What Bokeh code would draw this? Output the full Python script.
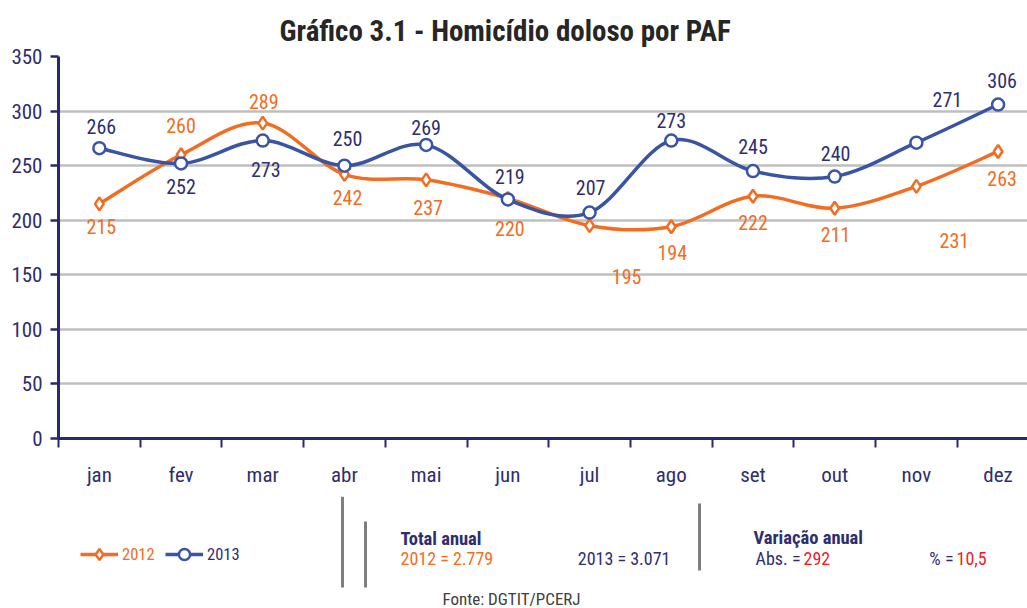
from bokeh.plotting import figure
from bokeh.layouts import column
from bokeh.models import ColumnDataSource, FixedTicker, Legend, LegendItem, Range1d
from bokeh.embed import file_html
from bokeh.resources import INLINE
from bokeh.core.properties import value

# ---------------- data ----------------
months = ["jan", "fev", "mar", "abr", "mai", "jun", "jul", "ago", "set", "out", "nov", "dez"]
vals_2012 = [215, 260, 289, 242, 237, 220, 195, 194, 222, 211, 231, 263]
vals_2013 = [266, 252, 273, 250, 269, 219, 207, 273, 245, 240, 271, 306]
y_ticks = [0, 50, 100, 150, 200, 250, 300, 350]
series_names = ["2012", "2013"]
title_text = "Gráfico 3.1 - Homicídio doloso por PAF"
total_2012 = "2.779"
total_2013 = "3.071"
var_abs = "292"
var_pct = "10,5"
source_text = "Fonte: DGTIT/PCERJ"

# label offsets in pixels (style, not data)
off12_x = [2, 0, 1, 3, 2, 2, 37, 1, 0, 1, 38, 4]
off12_y = [23, -29, -22, 23, 28, 30, 51, 26, 26, 26, 54, 27]
off13_x = [2, 0, 3, 3, 0, 2, 1, 0, 0, 1, 31, 4]
off13_y = [-22, 23, 29, -27, -17, -23, -25, -20, -25, -23, -43, -24]

FONT = "'Roboto Condensed', Roboto"
ORANGE = "#f26d21"
BLUE = "#3a54a4"
NAVY = "#2e2e6e"
AXIS = "#29296e"
RED = "#ee1c25"
GREY = "#7f7f7f"

xs = list(range(len(months)))


def bezier_cols(ys):
    n = len(ys)
    d = dict(x0=[], y0=[], x1=[], y1=[], cx0=[], cy0=[], cx1=[], cy1=[])
    for i in range(n - 1):
        pm = max(i - 1, 0)
        pp = min(i + 2, n - 1)
        d["x0"].append(xs[i]); d["y0"].append(ys[i])
        d["x1"].append(xs[i + 1]); d["y1"].append(ys[i + 1])
        d["cx0"].append(xs[i] + (xs[i + 1] - xs[pm]) / 6.0)
        d["cy0"].append(ys[i] + (ys[i + 1] - ys[pm]) / 6.0)
        d["cx1"].append(xs[i + 1] - (xs[pp] - xs[i]) / 6.0)
        d["cy1"].append(ys[i + 1] - (ys[pp] - ys[i]) / 6.0)
    return ColumnDataSource(d)


# ---------------- main chart ----------------
PH = 496
p = figure(width=1027, height=PH, output_backend="svg", toolbar_location=None,
           x_range=Range1d(-0.5, 11.36), y_range=Range1d(0, 350),
           min_border_left=58, min_border_right=0, min_border_top=56,
           min_border_bottom=PH - 56 - 382)
p.outline_line_color = None

p.title.text = title_text
p.title.text_font = FONT
p.title.text_font_size = "29px"
p.title.text_font_style = "bold"
p.title.text_color = "#262626"
p.title.align = "left"
p.title.offset = 221
p.title.standoff = 18

p.xgrid.grid_line_color = None
p.ygrid.grid_line_color = "#bfbfbf"
p.ygrid.grid_line_width = 2.5

p.yaxis.ticker = FixedTicker(ticks=y_ticks, minor_ticks=[])
p.yaxis.axis_line_color = AXIS
p.yaxis.axis_line_width = 3
p.yaxis.major_tick_line_color = AXIS
p.yaxis.major_tick_line_width = 2.5
p.yaxis.major_tick_out = 8
p.yaxis.major_tick_in = 0
p.yaxis.minor_tick_line_color = None
p.yaxis.major_label_text_font = FONT
p.yaxis.major_label_text_font_size = "21px"
p.yaxis.major_label_text_color = NAVY
p.yaxis.major_label_standoff = 8

p.xaxis.ticker = FixedTicker(ticks=xs, minor_ticks=[i - 0.5 for i in range(len(months) + 1)])
p.xaxis.major_label_overrides = {i: m for i, m in enumerate(months)}
p.xaxis.axis_line_color = AXIS
p.xaxis.axis_line_width = 3
p.xaxis.major_tick_line_color = None
p.xaxis.major_tick_out = 0
p.xaxis.major_tick_in = 0
p.xaxis.minor_tick_line_color = AXIS
p.xaxis.minor_tick_line_width = 2
p.xaxis.minor_tick_out = 9
p.xaxis.minor_tick_in = 0
p.xaxis.major_label_text_font = FONT
p.xaxis.major_label_text_font_size = "21px"
p.xaxis.major_label_text_color = NAVY
p.xaxis.major_label_standoff = 15

src12 = ColumnDataSource(dict(x=xs, y=vals_2012, t=[str(v) for v in vals_2012], ox=off12_x, oy=off12_y))
src13 = ColumnDataSource(dict(x=xs, y=vals_2013, t=[str(v) for v in vals_2013], ox=off13_x, oy=off13_y))

LINE12 = dict(line_color=ORANGE, line_width=3.5)
LINE13 = dict(line_color=BLUE, line_width=3.5)
MK12 = dict(marker="diamond", size=13, fill_color="white", line_color=ORANGE, line_width=2.5)
MK13 = dict(marker="circle", size=12, fill_color="white", line_color=BLUE, line_width=2.5)

p.bezier(x0="x0", y0="y0", x1="x1", y1="y1", cx0="cx0", cy0="cy0", cx1="cx1", cy1="cy1",
         source=bezier_cols(vals_2012), **LINE12)
p.bezier(x0="x0", y0="y0", x1="x1", y1="y1", cx0="cx0", cy0="cy0", cx1="cx1", cy1="cy1",
         source=bezier_cols(vals_2013), **LINE13)
p.scatter("x", "y", source=src12, **MK12)
p.scatter("x", "y", source=src13, **MK13)

p.text("x", "y", text="t", source=src12, x_offset="ox", y_offset="oy",
       text_align="center", text_baseline="middle", text_font=value(FONT),
       text_font_size="20px", text_color=ORANGE)
p.text("x", "y", text="t", source=src13, x_offset="ox", y_offset="oy",
       text_align="center", text_baseline="middle", text_font=value(FONT),
       text_font_size="20px", text_color=NAVY)

# ---------------- footer (legend + summary) ----------------
QH = 608 - PH
q = figure(width=1027, height=QH, output_backend="svg", toolbar_location=None,
           x_range=Range1d(58, 1027), y_range=Range1d(QH, 0),
           min_border_left=58, min_border_right=0, min_border_top=0, min_border_bottom=0)
q.axis.visible = False
q.grid.visible = False
q.outline_line_color = None

# hidden copies of the series, used only for the legend samples
l12 = q.line("x", "y", source=src12, visible=False, **LINE12)
m12 = q.scatter("x", "y", source=src12, visible=False, **MK12)
l13 = q.line("x", "y", source=src13, visible=False, **LINE13)
m13 = q.scatter("x", "y", source=src13, visible=False, **MK13)
for name, rends, col, lx in [(series_names[0], [l12, m12], ORANGE, 80),
                             (series_names[1], [l13, m13], NAVY, 165)]:
    lg = Legend(items=[LegendItem(label=name, renderers=rends)], location=(lx - 58, 40),
                orientation="horizontal", border_line_color=None, background_fill_alpha=0,
                inactive_fill_alpha=0, padding=0, margin=0, glyph_width=38, glyph_height=28,
                label_height=28, label_standoff=4, label_text_font=FONT,
                label_text_font_size="16.5px", label_text_color=col, click_policy="none")
    q.add_layout(lg, "center")

Y0 = PH  # footer top in page pixels

# separator bars
q.segment(x0=[342, 365, 699], y0=[0, 521 - Y0, 503 - Y0], x1=[342, 365, 699],
          y1=[587 - Y0, 587 - Y0, 570 - Y0], line_color=GREY, line_width=3)


def txt(t, x, y, color, size="18px", style="normal", align="left"):
    q.text(x=[x], y=[y - Y0], text=[t], text_align=align, text_baseline="middle",
           text_font=value(FONT), text_font_size=size, text_font_style=style, text_color=color)


txt("Total anual", 400, 538, NAVY, size="18.5px", style="bold")
txt("2012 = " + total_2012, 400, 558, ORANGE)
txt("2013 = " + total_2013, 670, 558, NAVY, align="right")
txt("Variação anual", 753, 537, NAVY, size="18.5px", style="bold")
txt("Abs. =", 800, 558, NAVY, align="right")
txt(var_abs, 803, 558, RED)
txt("% =", 953, 558, NAVY, align="right")
txt(var_pct, 956, 558, RED)
txt(source_text, 511, 598, "#404040", size="17px", align="center")

layout = column(p, q, spacing=0)
open("out.html", "w").write(file_html(layout, INLINE))
